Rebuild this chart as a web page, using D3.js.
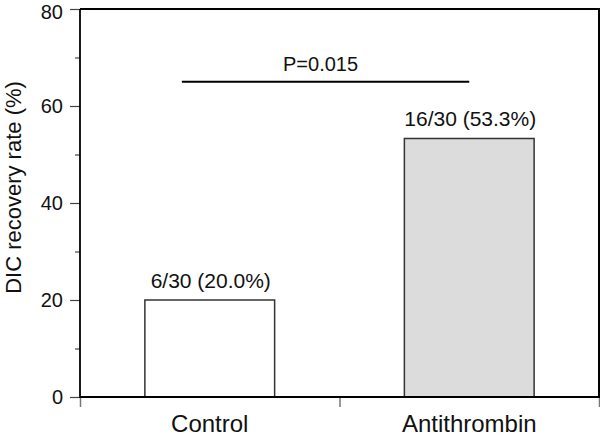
<!DOCTYPE html>
<html>
<head>
<meta charset="utf-8">
<script src="https://cdn.jsdelivr.net/npm/d3@7"></script>
<style>
  html, body { margin: 0; padding: 0; background: #fff; }
  svg { display: block; font-family: "Liberation Sans", Arial, Helvetica, sans-serif; }
</style>
</head>
<body>
<svg id="chart" width="600" height="437"></svg>
<script>
// ---- data ----
const categories = ["Control", "Antithrombin"];
const values = [20.0, 53.3];
const barLabels = ["6/30 (20.0%)", "16/30 (53.3%)"];
const barFills = ["#ffffff", "#dcdcdc"];
const yMajorTicks = [0, 20, 40, 60, 80];
const yMinorTicks = [10, 30, 50, 70];
const pValueText = "P=0.015";
const pValueLevel = 65;
const yTitle = "DIC recovery rate (%)";

// ---- layout ----
const W = 600, H = 437;
const mLeft = 80, mRight = 599, mTop = 9, mBottom = 397;

const svg = d3.select("#chart");

const x = d3.scaleBand().domain(categories).range([mLeft, mRight])
  .paddingInner(0.5).paddingOuter(0.25);
const y = d3.scaleLinear().domain([0, 80]).range([mBottom, mTop]);

// bars
svg.append("g").selectAll("rect").data(categories).join("rect")
  .attr("x", d => x(d))
  .attr("y", (d, i) => y(values[i]))
  .attr("width", x.bandwidth())
  .attr("height", (d, i) => y(0) - y(values[i]))
  .attr("fill", (d, i) => barFills[i])
  .attr("stroke", "#333")
  .attr("stroke-width", 1.5);

// bar labels
svg.append("g").selectAll("text").data(categories).join("text")
  .attr("x", d => x(d) + x.bandwidth() / 2 + 1)
  .attr("y", (d, i) => y(values[i]) - 12)
  .attr("text-anchor", "middle")
  .attr("font-size", 21)
  .attr("fill", "#111")
  .text((d, i) => barLabels[i]);

// y axis (major)
const yAxis = svg.append("g").attr("transform", `translate(${mLeft},0)`)
  .call(d3.axisLeft(y).tickValues(yMajorTicks).tickSize(10).tickPadding(7).tickFormat(d3.format("d")));
yAxis.select(".domain").remove();
yAxis.selectAll(".tick line").attr("stroke", "#444").attr("stroke-width", 1.2);
yAxis.selectAll(".tick text").attr("font-size", 20).attr("fill", "#111")
  .attr("font-family", "'Liberation Sans', Arial, sans-serif")
  .attr("dy", d => d === 80 ? "0.45em" : "0.32em");

// y axis (minor)
const yMinor = svg.append("g").attr("transform", `translate(${mLeft},0)`)
  .call(d3.axisLeft(y).tickValues(yMinorTicks).tickSize(5).tickFormat(""));
yMinor.select(".domain").remove();
yMinor.selectAll(".tick line").attr("stroke", "#444").attr("stroke-width", 1.2);

// x axis ticks at band boundaries
const step = x.step();
const boundaries = [mLeft, x(categories[0]) + x.bandwidth() + step * x.paddingInner() / 2, mRight];
const xAxis = svg.append("g").attr("transform", `translate(0,${mBottom})`)
  .call(d3.axisBottom(d3.scaleIdentity().domain([0, W])).tickValues(boundaries).tickSize(10).tickFormat(""));
xAxis.select(".domain").remove();
xAxis.selectAll(".tick line").attr("stroke", "#777").attr("stroke-width", 1.5);

// x category labels
svg.append("g").selectAll("text").data(categories).join("text")
  .attr("x", d => x(d) + x.bandwidth() / 2)
  .attr("y", 432)
  .attr("text-anchor", "middle")
  .attr("font-size", 24)
  .attr("fill", "#111")
  .text(d => d);

// frame
svg.append("line").attr("x1", mLeft).attr("x2", mRight + 1).attr("y1", mBottom).attr("y2", mBottom)
  .attr("stroke", "#000").attr("stroke-width", 2.2);
svg.append("line").attr("x1", mLeft).attr("x2", mRight + 1).attr("y1", mTop).attr("y2", mTop)
  .attr("stroke", "#000").attr("stroke-width", 2);
svg.append("line").attr("x1", mLeft).attr("x2", mLeft).attr("y1", mTop).attr("y2", mBottom + 1)
  .attr("stroke", "#000").attr("stroke-width", 1.8);
svg.append("line").attr("x1", mRight).attr("x2", mRight).attr("y1", mTop).attr("y2", mBottom + 1)
  .attr("stroke", "#000").attr("stroke-width", 2);

// p-value bracket line
const px1 = x(categories[0]) + x.bandwidth() * 0.285;
const px2 = x(categories[1]) + x.bandwidth() * 0.5;
svg.append("line").attr("x1", px1).attr("x2", px2)
  .attr("y1", y(pValueLevel)).attr("y2", y(pValueLevel))
  .attr("stroke", "#000").attr("stroke-width", 2);
svg.append("text")
  .attr("x", (px1 + px2) / 2 - 5)
  .attr("y", y(pValueLevel) - 11)
  .attr("text-anchor", "middle")
  .attr("font-size", 20)
  .attr("fill", "#111")
  .text(pValueText);

// y title
svg.append("text")
  .attr("transform", `translate(21,${(82 + 293) / 2}) rotate(-90)`)
  .attr("text-anchor", "middle")
  .attr("font-size", 22)
  .attr("fill", "#111")
  .text(yTitle);
</script>
</body>
</html>
